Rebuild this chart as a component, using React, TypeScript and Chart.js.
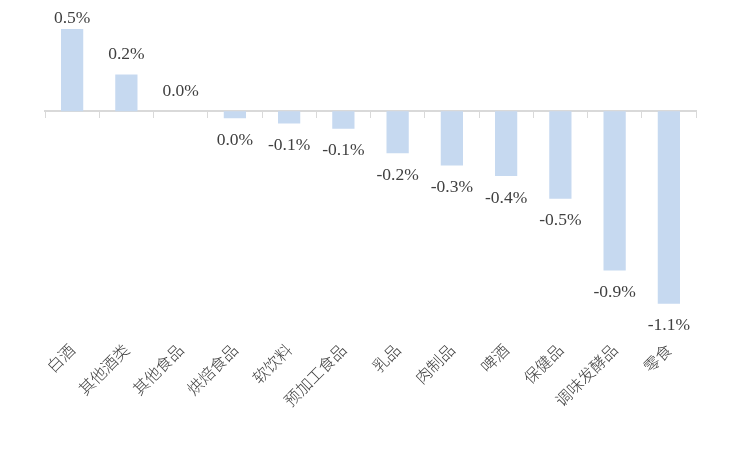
import React, { useEffect, useRef } from "react";
import { Chart, registerables } from "chart.js";

Chart.register(...registerables);

const categories = ["白酒", "其他酒类", "其他食品", "烘焙食品", "软饮料", "预加工食品", "乳品", "肉制品", "啤酒", "保健品", "调味发酵品", "零食"];
const values = [0.47, 0.21, 0.0, -0.04, -0.07, -0.1, -0.24, -0.31, -0.37, -0.5, -0.91, -1.1];

const BAR_COLOR = "#c6d9f0";
const TEXT_COLOR = "#404040";

const fmt = (v: number) => {
  let r = Math.round(v * 10) / 10;
  if (Object.is(r, -0) || r === 0) r = 0;
  return r.toFixed(1) + "%";
};

const labelPlugin = {
  id: "valueLabels",
  afterDatasetsDraw(chart: any) {
    const ctx = chart.ctx;
    const meta = chart.getDatasetMeta(0);
    const area = chart.chartArea;
    ctx.save();
    ctx.font = '17.5px "Liberation Serif", "Times New Roman", serif';
    ctx.fillStyle = TEXT_COLOR;
    ctx.textAlign = "center";
    ctx.textBaseline = "middle";
    meta.data.forEach((bar: any, i: number) => {
      const v = values[i];
      let y: number;
      if (v >= 0) {
        y = Math.max(bar.y - 20, area.top + 3);
      } else {
        y = bar.y + 22;
      }
      ctx.fillText(fmt(v), bar.x, y);
    });
    ctx.restore();
  },
};

export default function App() {
  const ref = useRef<HTMLCanvasElement>(null);
  useEffect(() => {
    if (!ref.current) return;
    const chart = new Chart(ref.current, {
      type: "bar",
      data: {
        labels: categories,
        datasets: [
          {
            data: values,
            backgroundColor: BAR_COLOR,
            borderWidth: 0,
            barPercentage: 0.41,
            categoryPercentage: 1,
            xAxisID: "x",
          },
        ],
      },
      options: {
        animation: false,
        responsive: true,
        maintainAspectRatio: false,
        layout: { padding: { top: 7, left: 37, right: 33, bottom: 8 } },
        plugins: { legend: { display: false }, tooltip: { enabled: false } },
        scales: {
          x: {
            type: "category",
            position: { y: 0 } as any,
            offset: true,
            grid: {
              display: true,
              offset: true,
              drawOnChartArea: false,
              drawTicks: true,
              tickLength: 6,
              color: "#d9d9d9",
              lineWidth: 1,
            },
            border: { display: true, color: "#d9d9d9", width: 2 },
            ticks: { display: false },
          },
          x2: {
            type: "category",
            position: "bottom",
            offset: true,
            labels: categories,
            grid: { display: false },
            border: { display: false },
            ticks: {
              autoSkip: false,
              maxRotation: 45,
              minRotation: 45,
              color: TEXT_COLOR,
              padding: 2,
              font: { family: '"Noto Sans CJK SC", sans-serif', size: 16, weight: "300" as any },
            },
            afterFit: (scale: any) => {
              scale.height = 110;
            },
          },
          y: {
            display: false,
            min: -1.25,
            max: 0.55,
          },
        },
      },
      plugins: [labelPlugin],
    });
    return () => chart.destroy();
  }, []);
  return (
    <div style={{ width: 721, height: 440 }}>
      <canvas ref={ref} />
    </div>
  );
}
